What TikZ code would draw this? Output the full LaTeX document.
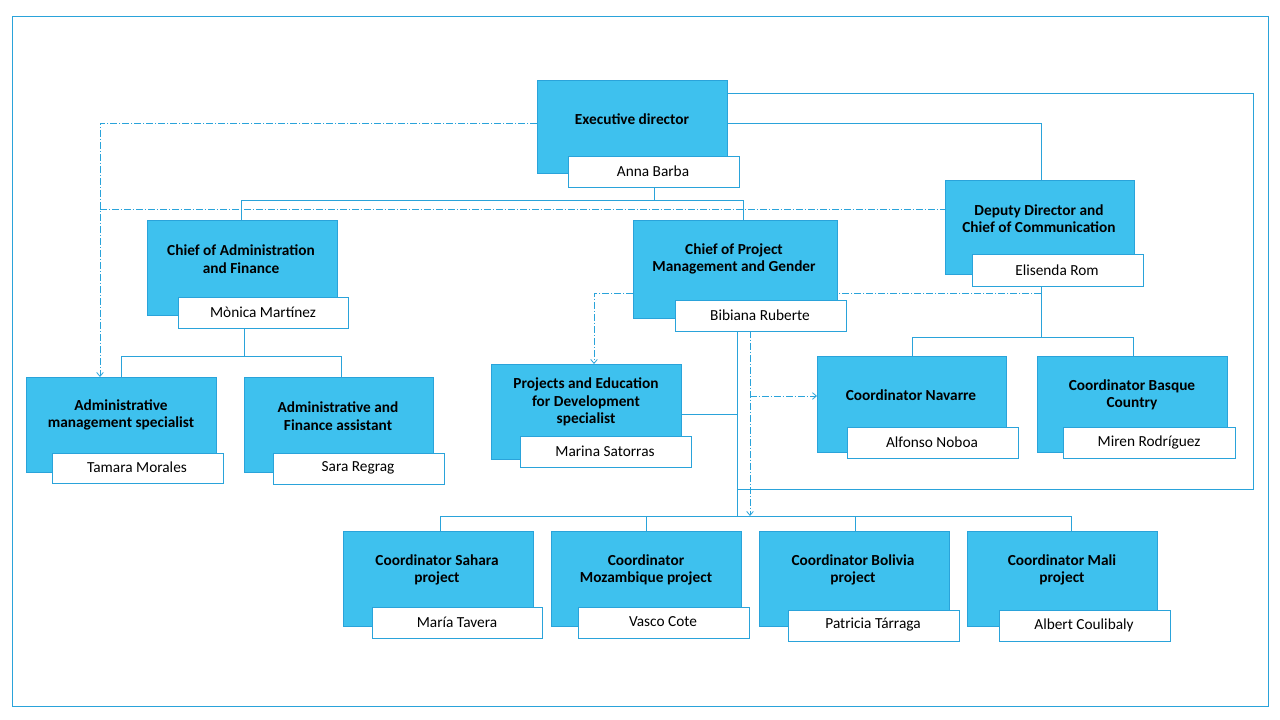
\documentclass[tikz,border=0pt]{standalone}
\usepackage{fontspec}
\setmainfont{Carlito}
\usetikzlibrary{arrows.meta}
\definecolor{bfill}{HTML}{3EC1EE}
\definecolor{bline}{HTML}{2AA3DA}
\begin{document}
\begin{tikzpicture}[x=0.75pt,y=-0.75pt,
 conn/.style={draw=bline,line width=0.6pt},
 dd/.style={draw=bline,line width=0.6pt,dash pattern=on 5pt off 1.5pt on 1pt off 1.5pt},
 arr/.style={-{Straight Barb[length=3pt,width=5pt]}},
 ttl/.style={font=\bfseries\fontsize{11.5}{13}\selectfont,align=center,text=black},
 nm/.style={font=\fontsize{11.5}{13}\selectfont,text=black}]
\useasboundingbox (0,0) rectangle (1280,720);
\draw[bline,line width=0.6pt] (12,16) rectangle (1268,706);
\newcommand\orgbox[7]{% name, bx1,by1,bx2,by2 ; white x1 y1 via #6 ; title #7
}
\def\B#1#2#3#4#5#6#7#8#9{%
 \filldraw[fill=bfill,draw=bline,line width=0.6pt] (#2,#3) rectangle (#4,#5);
 \filldraw[fill=white,draw=bline,line width=0.6pt] (#6,#7) rectangle (#8,#9);
 \coordinate (#1) at (#2,#3);}
% connectors first (under boxes)
\draw[conn] (654,187) -- (654,200);
\draw[conn] (241,220) -- (241,200) -- (743,200) -- (743,220);
\draw[conn] (727,123) -- (1041,123) -- (1041,180);
\draw[conn] (727,93) -- (1253,93) -- (1253,489) -- (737,489);
\draw[conn] (244,328) -- (244,356);
\draw[conn] (121,377) -- (121,356) -- (341,356) -- (341,377);
\draw[conn] (1041,286) -- (1041,337);
\draw[conn] (912,356) -- (912,337) -- (1133,337) -- (1133,356);
\draw[conn] (737,331) -- (737,516);
\draw[conn] (681,414) -- (737,414);
\draw[conn] (440,531) -- (440,516) -- (1071,516) -- (1071,531);
\draw[conn] (646,516) -- (646,531);
\draw[conn] (855,516) -- (855,531);
\draw[dd,arr] (537,123) -- (100,123) -- (100,377);
\draw[dd] (100,209) -- (945,209);
\draw[dd,arr] (1041,293) -- (594,293) -- (594,364);
\draw[dd,arr] (750,331) -- (750,516);
\draw[dd,arr] (750,396) -- (817,396);
% boxes
\B{ex}{537}{80}{727}{173}{568}{156}{739}{187}
\B{ca}{147}{220}{337}{315}{178}{297}{348}{328}
\B{cp}{633}{220}{837}{318}{675}{300}{846}{331}
\B{dp}{945}{180}{1134}{274}{972}{254}{1143}{286}
\B{am}{26}{377}{216}{472}{52}{453}{223}{483}
\B{af}{244}{377}{433}{472}{273}{453}{444}{484}
\B{pe}{491}{364}{681}{459}{520}{436}{691}{467}
\B{cn}{817}{356}{1006}{452}{847}{427}{1018}{458}
\B{cb}{1037}{356}{1227}{452}{1063}{427}{1235}{458}
\B{cs}{343}{531}{533}{626}{372}{607}{542}{638}
\B{cm}{551}{531}{741}{626}{578}{607}{749}{638}
\B{cl}{759}{531}{949}{626}{788}{610}{959}{641}
\B{ci}{967}{531}{1157}{626}{999}{610}{1170}{641}
% texts
\node[ttl] (t1) at (632,119) {Executive director};
\node[nm] (n1) at (653,171) {Anna Barba};
\node[ttl] (t2) at (241,259) {Chief of Administration\\and Finance};
\node[nm] (n2) at (263,312) {Mònica Martínez};
\node[ttl] (t3) at (734,259) {Chief of Project\\Management and Gender};
\node[nm] (n3) at (760,315) {Bibiana Ruberte};
\node[ttl] (t4) at (1039,219) {Deputy Director and\\Chief of Communication};
\node[nm] (n4) at (1057,270) {Elisenda Rom};
\node[ttl] (t5) at (121,415) {Administrative\\management specialist};
\node[nm] (n5) at (137,467) {Tamara Morales};
\node[ttl] (t6) at (338,416) {Administrative and\\Finance assistant};
\node[nm] (n6) at (358,468) {Sara Regrag};
\node[ttl] (t7) at (586,402) {Projects and Education\\for Development\\specialist};
\node[nm] (n7) at (605,451) {Marina Satorras};
\node[ttl] (t8) at (911,395) {Coordinator Navarre};
\node[nm] (n8) at (932,442) {Alfonso Noboa};
\node[ttl] (t9) at (1132,395) {Coordinator Basque\\Country};
\node[nm] (n9) at (1149,442) {Miren Rodríguez};
\node[ttl] (t10) at (437,570) {Coordinator Sahara\\project};
\node[nm] (n10) at (457,622) {María Tavera};
\node[ttl] (t11) at (646,570) {Coordinator\\Mozambique project};
\node[nm] (n11) at (663,622) {Vasco Cote};
\node[ttl] (t12) at (853,570) {Coordinator Bolivia\\project};
\node[nm] (n12) at (873,625) {Patricia Tárraga};
\node[ttl] (t13) at (1062,570) {Coordinator Mali\\project};
\node[nm] (n13) at (1084,625) {Albert Coulibaly};
\end{tikzpicture}
\end{document}
